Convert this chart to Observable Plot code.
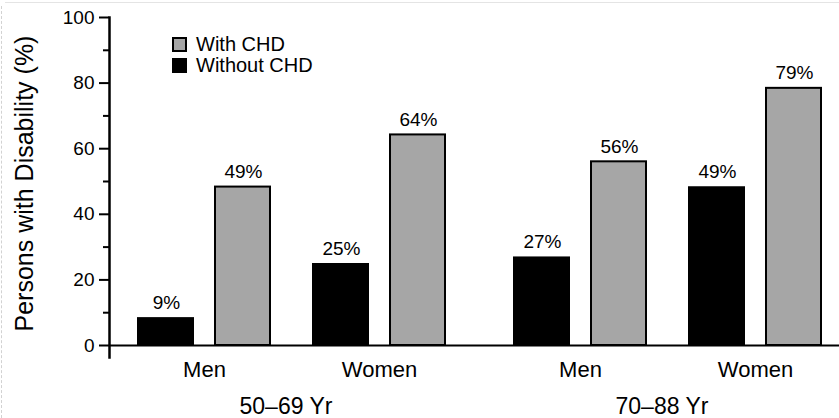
<!DOCTYPE html>
<html>
<head>
<meta charset="utf-8">
<script src="https://cdn.jsdelivr.net/npm/d3@7"></script>
<script src="https://cdn.jsdelivr.net/npm/@observablehq/plot@0.6"></script>
<style>
  html, body { margin: 0; padding: 0; background: #fff; overflow: hidden; }
  #wrap { position: relative; width: 839px; height: 418px; font-family: "Liberation Sans", Arial, sans-serif; color: #000; }
  #topline { position: absolute; left: 5px; right: 0; top: 2px; height: 1px; background: #e4e4e4; }
  #leftline { position: absolute; left: 1px; top: 6px; bottom: 0; border-left: 1px dashed #d2d2d2; }
  #ytitle { position: absolute; left: -175.8px; top: 170.5px; width: 400px; height: 25px; line-height: 25px; font-size: 25px; text-align: center; white-space: nowrap; transform: rotate(-90deg); }
  .sw { position: absolute; width: 15px; height: 15px; box-sizing: border-box; }
  .lt { position: absolute; font-size: 20px; line-height: 21px; white-space: nowrap; }
</style>
</head>
<body>
<div id="wrap">
  <div id="chart"></div>
  <div id="topline"></div>
  <div id="leftline"></div>
  <div id="ytitle"></div>
  <div id="legend"></div>
</div>
<script>
// ---- data ----
const ageGroups = ["50–69 Yr", "70–88 Yr"];
const sexes = ["Men", "Women"];
const seriesNames = ["With CHD", "Without CHD"];
const seriesColors = ["#a6a6a6", "#000000"];
// order: 50–69 Men, 50–69 Women, 70–88 Men, 70–88 Women
const withoutCHD = [8.5, 25, 27, 48.4];
const withCHD = [48.3, 64.2, 56, 78.4];
const withoutLabels = ["9%", "25%", "27%", "49%"];
const withLabels = ["49%", "64%", "56%", "79%"];
const yMajorTicks = [0, 20, 40, 60, 80, 100];
const yMinorTicks = [10, 30, 50, 70, 90];
const yTitle = "Persons with Disability (%)";

// ---- table ----
const rows = [];
for (let i = 0; i < 4; i++) {
  const age = ageGroups[Math.floor(i / 2)];
  const sex = sexes[i % 2];
  rows.push({age, sex, series: "Without CHD", value: withoutCHD[i], label: withoutLabels[i]});
  rows.push({age, sex, series: "With CHD", value: withCHD[i], label: withLabels[i]});
}
const wo = rows.filter(d => d.series === "Without CHD");
const wi = rows.filter(d => d.series === "With CHD");

const chart = Plot.plot({
  width: 839,
  height: 418,
  marginTop: 17,
  marginBottom: 73,
  marginLeft: 108,
  marginRight: 0,
  style: {fontFamily: "Liberation Sans, Arial, sans-serif", fontSize: "18px", color: "#000", background: "transparent", overflow: "hidden"},
  fx: {domain: ageGroups, paddingInner: 0.061, paddingOuter: 0},
  x: {domain: sexes, paddingInner: 0.233, paddingOuter: 0.122, align: 0.65},
  y: {domain: [0, 100]},
  marks: [
    Plot.barY(wo, {fx: "age", x: "sex", y: "value", fill: seriesColors[1], insetRight: 77}),
    Plot.barY(wi, {fx: "age", x: "sex", y: "value", fill: seriesColors[0], stroke: "#000", strokeWidth: 2, insetLeft: 78, insetRight: 1}),
    Plot.text(wo, {fx: "age", x: "sex", y: "value", text: "label", dx: -38, dy: -9, lineAnchor: "bottom", fontSize: 19}),
    Plot.text(wi, {fx: "age", x: "sex", y: "value", text: "label", dx: 39, dy: -9, lineAnchor: "bottom", fontSize: 19}),
    Plot.ruleY([0], {stroke: "#000", strokeWidth: 2, insetRight: -23}),
    Plot.frame({anchor: "left", facetAnchor: "left", stroke: "#000", strokeWidth: 2.5, insetBottom: -12}),
    Plot.axisY({ticks: yMajorTicks, tickSize: 10, tickPadding: 5, strokeWidth: 2, fontSize: 19, label: null}),
    Plot.axisY({ticks: yMinorTicks, tickSize: 6, strokeWidth: 2, text: null, label: null}),
    Plot.axisX({tickSize: 0, tickPadding: 16, fontSize: 22, label: null}),
    Plot.axisFx({anchor: "bottom", tickSize: 0, tickPadding: 52, fontSize: 23, label: null})
  ]
});
document.getElementById("chart").appendChild(chart);
document.getElementById("ytitle").textContent = yTitle;

// legend
const legend = document.getElementById("legend");
seriesNames.forEach((name, i) => {
  const sw = document.createElement("div");
  sw.className = "sw";
  sw.style.left = "172px";
  sw.style.top = (37 + i * 21) + "px";
  sw.style.background = seriesColors[i];
  sw.style.border = "2px solid #000";
  legend.appendChild(sw);
  const t = document.createElement("div");
  t.className = "lt";
  t.style.left = "196px";
  t.style.top = (34 + i * 21) + "px";
  t.textContent = name;
  legend.appendChild(t);
});
</script>
</body>
</html>
